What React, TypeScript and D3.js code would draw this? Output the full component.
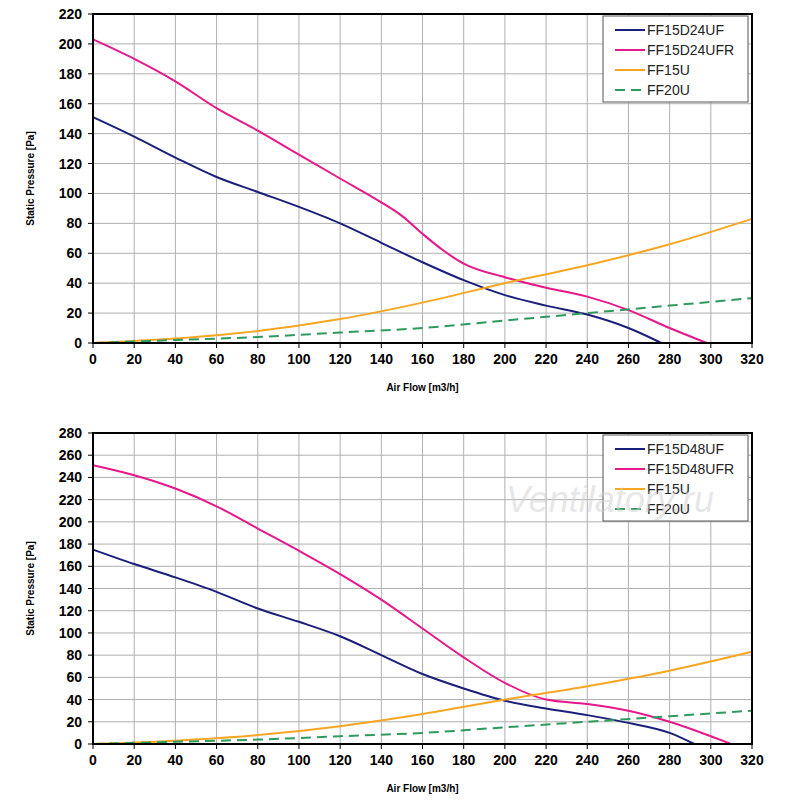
import React from "react";
import * as d3 from "d3";

type Pt = [number, number];

const fan15 = ["FF15D24UF", "FF15D24UFR", "FF15U", "FF20U"];
const fan48 = ["FF15D48UF", "FF15D48UFR", "FF15U", "FF20U"];
const colors = ["#1c1f7a", "#e6198a", "#f5a623", "#2e9a5e"];

const uf24: Pt[] = [[0,151],[20,138],[40,124],[60,111],[80,101],[100,91],[120,80],[140,67],[160,54],[180,42],[200,32],[220,25],[240,19],[260,10],[276,0]];
const ufr24: Pt[] = [[0,203],[20,190],[40,175],[60,157],[80,142],[100,126],[120,110],[140,94],[150,85],[160,73],[170,62],[180,53],[200,44],[220,37],[240,31],[260,22],[280,10],[298,0]];
const uf48: Pt[] = [[0,175],[20,162],[40,150],[60,137],[80,122],[100,110],[120,97],[140,80],[160,63],[180,50],[200,39],[220,32],[240,26],[260,19],[280,10],[292,0]];
const ufr48: Pt[] = [[0,251],[20,242],[40,230],[60,214],[80,194],[100,174],[120,153],[140,130],[160,104],[180,78],[200,55],[220,40],[240,36],[260,30],[280,20],[300,7],[310,0]];
const ff15u: Pt[] = [[0,0],[40,3],[80,8],[120,16],[160,27],[200,40],[240,52],[280,66],[320,83]];
const ff20u: Pt[] = [[0,0],[40,2],[80,4],[120,7],[160,10],[200,15],[240,20],[280,25],[320,30]];

const xTicks = d3.range(0, 321, 20);

function Chart({ top, bottom, yMax, names, series }: { top: number; bottom: number; yMax: number; names: string[]; series: Pt[][] }) {
  const left = 93, right = 752;
  const x = d3.scaleLinear().domain([0, 320]).range([left, right]);
  const y = d3.scaleLinear().domain([0, yMax]).range([bottom, top]);
  const yTicks = d3.range(0, yMax + 1, 20);
  const line = d3.line<Pt>().x(d => x(d[0])).y(d => y(d[1])).curve(d3.curveMonotoneX);
  const lgX = 603, lgW = right - lgX - 4, lgH = 86;
  return (
    <g fontFamily="Arial, Liberation Sans, sans-serif">
      {xTicks.map(t => <line key={"gx" + t} x1={x(t)} x2={x(t)} y1={top} y2={bottom} stroke="#b0b0b0" strokeWidth={1} />)}
      {yTicks.map(t => <line key={"gy" + t} x1={left} x2={right} y1={y(t)} y2={y(t)} stroke="#b0b0b0" strokeWidth={1} />)}
      {series.map((s, i) => (
        <path key={i} d={line(s)!} fill="none" stroke={colors[i]} strokeWidth={2} strokeDasharray={i === 3 ? "10,6" : undefined} />
      ))}
      <rect x={left} y={top} width={right - left} height={bottom - top} fill="none" stroke="#000" strokeWidth={2} />
      {yTicks.map(t => (
        <g key={"yt" + t}>
          <line x1={left - 5} x2={left} y1={y(t)} y2={y(t)} stroke="#000" />
          <text x={left - 11} y={y(t) + 5} textAnchor="end" fontSize={14} fontWeight="bold">{t}</text>
        </g>
      ))}
      {xTicks.map(t => (
        <g key={"xt" + t}>
          <line x1={x(t)} x2={x(t)} y1={bottom} y2={bottom + 5} stroke="#000" />
          <text x={x(t)} y={bottom + 21} textAnchor="middle" fontSize={14} fontWeight="bold">{t}</text>
        </g>
      ))}
      <text transform={`translate(34,${(top + bottom) / 2}) rotate(-90)`} textAnchor="middle" fontSize={10} fontWeight="bold">Static Pressure [Pa]</text>
      <text x={(left + right) / 2} y={bottom + 48} textAnchor="middle" fontSize={10} fontWeight="bold">Air Flow [m3/h]</text>
      <rect x={lgX} y={top + 2} width={lgW} height={lgH} fill="#fff" stroke="#555" strokeWidth={1} />
      {names.map((n, i) => (
        <g key={n} transform={`translate(${lgX + 12},${top + 16 + i * 20})`}>
          <line x1={0} x2={30} y1={0} y2={0} stroke={colors[i]} strokeWidth={2} strokeDasharray={i === 3 ? "10,6" : undefined} />
          <text x={32} y={5} fontSize={14} fill="#222">{n}</text>
        </g>
      ))}
    </g>
  );
}

export default function App() {
  return (
    <svg width={800} height={805} style={{ display: "block", position: "absolute", left: 0, top: 0 }}>
      <rect width={800} height={805} fill="#fff" />
      <Chart top={14} bottom={343} yMax={220} names={fan15} series={[uf24, ufr24, ff15u, ff20u]} />
      <Chart top={433} bottom={744} yMax={280} names={fan48} series={[uf48, ufr48, ff15u, ff20u]} />
      <text x={610} y={512} textAnchor="middle" fontSize={36} fontStyle="italic" fill="#d0d0d0" fillOpacity={0.5} fontFamily="Arial, sans-serif">Ventilatory.ru</text>
    </svg>
  );
}
